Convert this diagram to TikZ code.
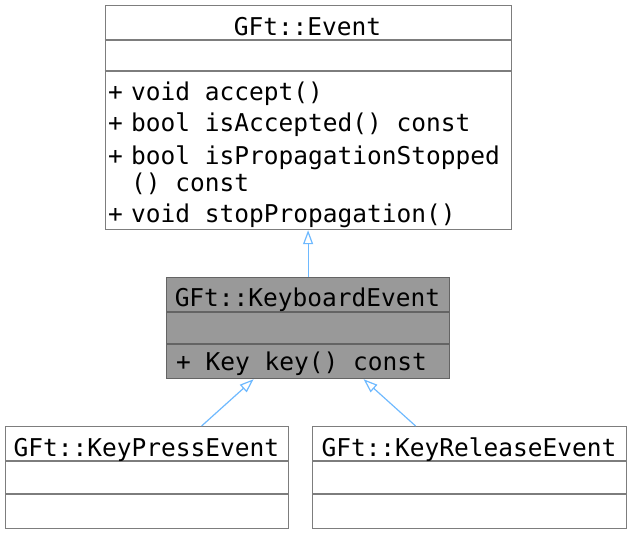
\documentclass[tikz,border=0pt]{standalone}
\usepackage{fontspec}
\setmonofont{DejaVu Sans Mono}
\usepackage{tikz}
\usetikzlibrary{arrows.meta}
\usetikzlibrary{calc}
\definecolor{boxline}{RGB}{125,125,125}
\definecolor{darkline}{RGB}{100,100,100}
\definecolor{kbfill}{RGB}{153,153,153}
\definecolor{isaline}{RGB}{110,185,255}

\begin{document}
\begin{tikzpicture}[x=1pt,y=-1pt,>={Triangle[open,length=14pt,width=10pt]},
		font=\ttfamily\fontsize{24.5}{28}\selectfont]
		\tikzstyle{classbox}=[rectangle,draw=boxline,line width=1.2pt,inner sep=0pt,anchor=north west];
		\tikzstyle{title}=[anchor=base,inner sep=0pt];
		\tikzstyle{member}=[anchor=base west,inner sep=0pt];
		\tikzstyle{isa}=[->,draw=isaline,line width=1.2pt];
		\useasboundingbox (0,0) rectangle (631,533);

		\node[classbox,minimum width=406pt,minimum height=224pt](0) at (104.5,5){};
		\draw[boxline,line width=1.2pt](104.5,40)--(510.5,40)(104.5,71)--(510.5,71);
		\node[title](0t) at (307.5,35){GFt::Event};
		\node[member](0p1) at (108,100){+};\node[member](0m1) at (131,100){void accept()};
		\node[member](0p2) at (108,131){+};\node[member](0m2) at (131,131){bool isAccepted() const};
		\node[member](0p3) at (108,164){+};\node[member](0m3) at (131,164){bool isPropagationStopped};
		\node[member](0m4) at (131,191){() const};
		\node[member](0p5) at (108,222){+};\node[member](0m5) at (131,222){void stopPropagation()};

		\node[classbox,fill=kbfill,draw=darkline,minimum width=283pt,minimum height=101pt](1) at (166,277){};
		\draw[darkline,line width=1.2pt](166,312)--(449,312)(166,344)--(449,344);
		\node[title](1t) at (307.5,306){GFt::KeyboardEvent};
		\node[member](1m1) at (176,370){+ Key key() const};
		\draw[isa](1.north)--(1.north|-0.south);

		\node[classbox,minimum width=283pt,minimum height=102pt](20) at (5,426){};
		\draw[boxline,line width=1.2pt](5,461)--(288,461)(5,494)--(288,494);
		\node[title](20t) at (146.5,456){GFt::KeyPressEvent};
		\draw[isa]($(20.north)+(54.5,0)$)--($(1.south)+(-54.5,0)$);

		\node[classbox,minimum width=314pt,minimum height=102pt](21) at (312,426){};
		\draw[boxline,line width=1.2pt](312,461)--(626,461)(312,494)--(626,494);
		\node[title](21t) at (469,456){GFt::KeyReleaseEvent};
		\draw[isa]($(21.north)+(-54,0)$)--($(1.south)+(55.5,0)$);
	\end{tikzpicture}
\end{document}
